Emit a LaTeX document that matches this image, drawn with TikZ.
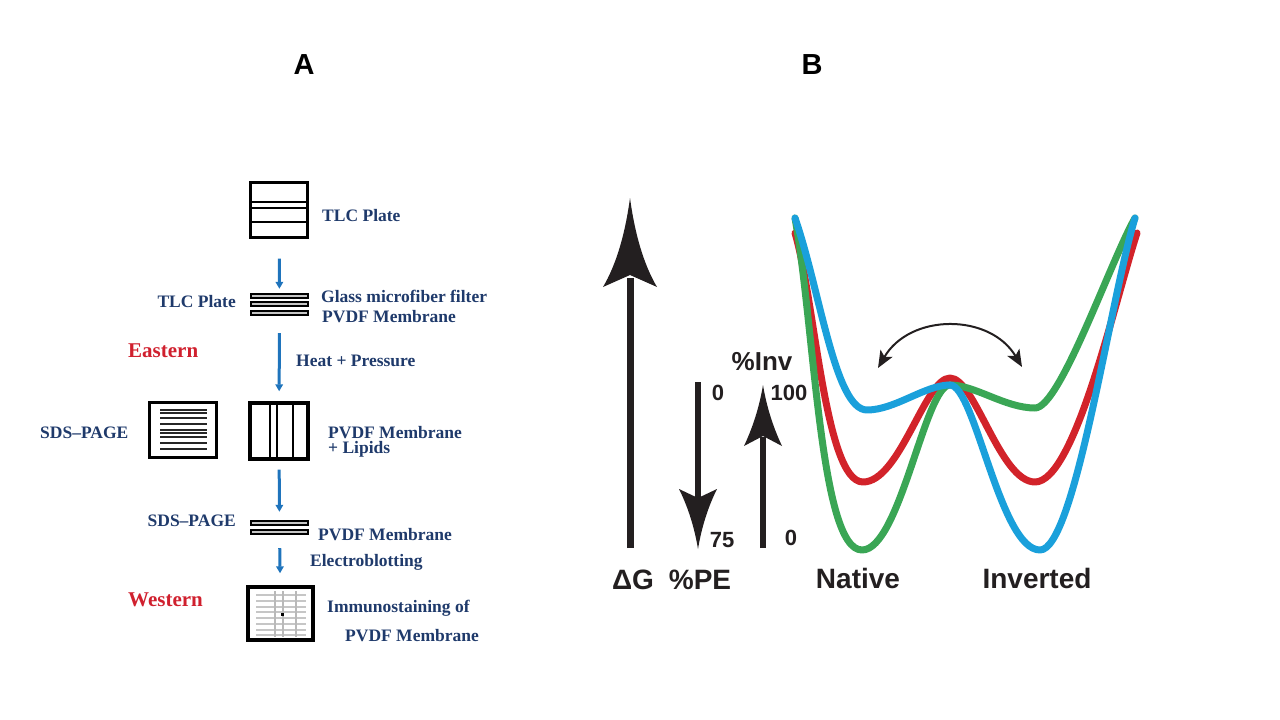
\documentclass[tikz,border=0pt]{standalone}
\usepackage{fontspec}
\setmainfont{Liberation Serif}
\newfontfamily\arialf{Liberation Sans}
\usetikzlibrary{arrows.meta}
\definecolor{navy}{HTML}{1F3A6B}
\definecolor{eastred}{HTML}{D0202E}
\definecolor{arrblue}{HTML}{1F74BC}
\definecolor{cred}{HTML}{D2232A}
\definecolor{cgreen}{HTML}{3AA655}
\definecolor{cblue}{HTML}{1AA0DB}
\definecolor{ink}{HTML}{231F20}
\begin{document}
\begin{tikzpicture}[x=1pt,y=-1pt,
  title/.style={font=\arialf\bfseries\fontsize{29}{30}\selectfont,text=black,inner sep=0pt},
  lbl/.style={text=navy,font=\bfseries\fontsize{17.5}{15}\selectfont,inner sep=0pt,anchor=west},
  lblr/.style={lbl,anchor=east},
  redlbl/.style={text=eastred,font=\bfseries\fontsize{21}{22}\selectfont,inner sep=0pt,anchor=west},
  box/.style={draw=black,line width=3.4pt,inner sep=0pt},
  inner/.style={line width=2.4pt},
  bar/.style={draw=black,fill=gray!45,line width=1.3pt},
  sandw/.style={inner sep=0pt,minimum width=57pt},
  barrow/.style={draw=arrblue,line width=3pt,-{Triangle[length=7pt,width=7.5pt]}},
  blbl/.style={text=ink,font=\arialf\bfseries\fontsize{28}{30}\selectfont,inner sep=0pt},
  nlbl/.style={text=ink,font=\arialf\bfseries\fontsize{22}{24}\selectfont,inner sep=0pt},
  curve/.style={line width=7pt,line cap=round,line join=round},
  shaft/.style={draw=ink,line width=7pt},
  head/.style={fill=ink}
]
\useasboundingbox (0,0) rectangle (1280,720);

% titles
\node[title] (tA) at (304,65) {A};
\node[title] (tB) at (812,65) {B};

% ---------- Panel A ----------
% TLC plate
\node[box,minimum width=57pt,minimum height=55pt] (tlc) at (279,210) {};
\draw[inner] (251,202) -- (307,202);
\draw[inner] (251,208) -- (307,208);
\draw[inner] (251,222) -- (307,222);
\node[lbl] (tlcl) at (322,216) {TLC Plate};

% sandwich 1
\node[sandw,minimum height=21pt] (sandA) at (279.5,304.5) {};
\draw[bar] (251,294) rectangle (308,298);
\draw[bar] (251,302) rectangle (308,306);
\draw[bar] (251,311) rectangle (308,315);
\node[lblr] (tlcl2) at (236,302) {TLC Plate};
\node[lbl] (glass) at (321,296) {Glass microfiber filter};
\node[lbl] (pvdf1) at (322,317) {PVDF Membrane};
\node[redlbl] (east) at (128,351) {Eastern};
\node[lbl] (heat) at (296,361) {Heat + Pressure};

% PVDF membrane + lipids
\node[box,minimum width=58pt,minimum height=56pt] (pvdf) at (279,431) {};
\draw[inner] (270,403) -- (270,459);
\draw[inner] (277,403) -- (277,459);
\draw[inner] (293,403) -- (293,459);
\node[lbl,align=left] (pvdfl) at (328,442) {PVDF Membrane\\+ Lipids};

% SDS-PAGE gel
\node[box,minimum width=67pt,minimum height=55pt] (sds) at (183,430) {};
\foreach \yy in {410,413,418,424,430,433,437,443,449}
  \draw[line width=1.8pt,black!85] (160,\yy) -- (207,\yy);
\node[lbl] (sdsl) at (40,433) {SDS–PAGE};

% sandwich 2
\node[sandw,minimum height=13pt] (sandB) at (279.5,527.5) {};
\draw[bar] (251,521) rectangle (308,525);
\draw[bar] (251,530) rectangle (308,534);
\node[lblr] (sdsl2) at (236,521) {SDS–PAGE};
\node[lbl] (pvdf2) at (318,535) {PVDF Membrane};
\node[lbl] (elec) at (310,562) {Electroblotting};
\node[redlbl] (west) at (128,600) {Western};

% western blot
\node[box,minimum width=65pt,minimum height=53pt] (wb) at (280.5,613.5) {};
\foreach \yy in {595,601,607,612,618,624,630,635}
  \draw[gray!45,line width=1.1pt] (256,\yy) -- (306,\yy);
\foreach \xx in {275,283,296}
  \draw[gray!55,line width=1.3pt] (\xx,591) -- (\xx,637);
\fill[black] (280.5,612.5) rectangle (283.5,615.5);
\node[lbl] (imm1) at (327,608) {Immunostaining of};
\node[lbl] (imm2) at (345,636) {PVDF Membrane};

% blue arrows
\draw[barrow,shorten <=19.5pt,shorten >=5pt] (tlc) -- (sandA);
\draw[barrow,shorten <=18pt,shorten >=10pt] (sandA) -- (pvdf);
\draw[barrow,shorten <=9pt,shorten >=9pt] (pvdf) -- (sandB);
\draw[barrow,shorten <=14pt,shorten >=12pt] (sandB) -- (wb);

% ---------- Panel B ----------
% Delta G arrow
\coordinate (gb) at (630,548);
\coordinate (gt) at (630,278);
\draw[shaft] (gb) -- (gt);
\fill[head] (630,198) .. controls (635,235) and (644,265) .. (657,287) -- (630,275) -- (603,287) .. controls (616,265) and (625,235) .. (630,198) -- cycle;
% %PE arrow (down)
\coordinate (pt) at (698,382);
\coordinate (pb) at (698,500);
\draw[shaft,line width=6pt] (pt) -- (pb);
\fill[head] (698,549) .. controls (702,525) and (709,505) .. (717,489) -- (698,498) -- (679,489) .. controls (687,505) and (694,525) .. (698,549) -- cycle;
% %Inv arrow (up)
\coordinate (ib) at (763,548);
\coordinate (it) at (763,437);
\draw[shaft,line width=6pt] (ib) -- (it);
\fill[head] (763,385) .. controls (767,409) and (774,429) .. (782,446) -- (763,436) -- (744,446) .. controls (752,429) and (759,409) .. (763,385) -- cycle;

\node[blbl] (dg) at (633,580) {ΔG};
\node[blbl] (pe) at (700,580) {\%PE};
\node[blbl,font=\arialf\bfseries\fontsize{26}{28}\selectfont] (inv) at (762,362) {\%Inv};
\node[nlbl] (pe0) at (718,393) {0};
\node[nlbl] (pe75) at (722,540) {75};
\node[nlbl] (inv100) at (789,393) {100};
\node[nlbl] (inv0) at (791,538) {0};
\node[blbl] (nat) at (858,578) {Native};
\node[blbl] (invd) at (1037,578) {Inverted};

% energy curves
\draw[curve,cred] (795,233) .. controls (815,300) and (825,482) .. (863,482)
  .. controls (900,482) and (925,378) .. (950,378)
  .. controls (975,378) and (1000,482) .. (1035,482)
  .. controls (1075,482) and (1115,300) .. (1137,233);
\draw[curve,cgreen] (795,218) .. controls (815,330) and (820,550) .. (862,550)
  .. controls (900,550) and (925,385) .. (950,385)
  .. controls (975,385) and (1005,408) .. (1035,408)
  .. controls (1060,408) and (1110,262) .. (1135,218);
\draw[curve,cblue] (795,218) .. controls (820,290) and (835,410) .. (867,410)
  .. controls (895,410) and (925,385) .. (950,385)
  .. controls (975,385) and (1000,550) .. (1040,550)
  .. controls (1075,550) and (1110,300) .. (1135,218);

% double-headed exchange arrow
\coordinate (xl) at (878,368);
\coordinate (xr) at (1022,367);
\draw[ink,line width=2pt,{Stealth[length=17pt,width=14pt,inset=4pt]}-{Stealth[length=17pt,width=14pt,inset=4pt]}] (xl) .. controls (910,313) and (990,313) .. (xr);
\end{tikzpicture}
\end{document}
